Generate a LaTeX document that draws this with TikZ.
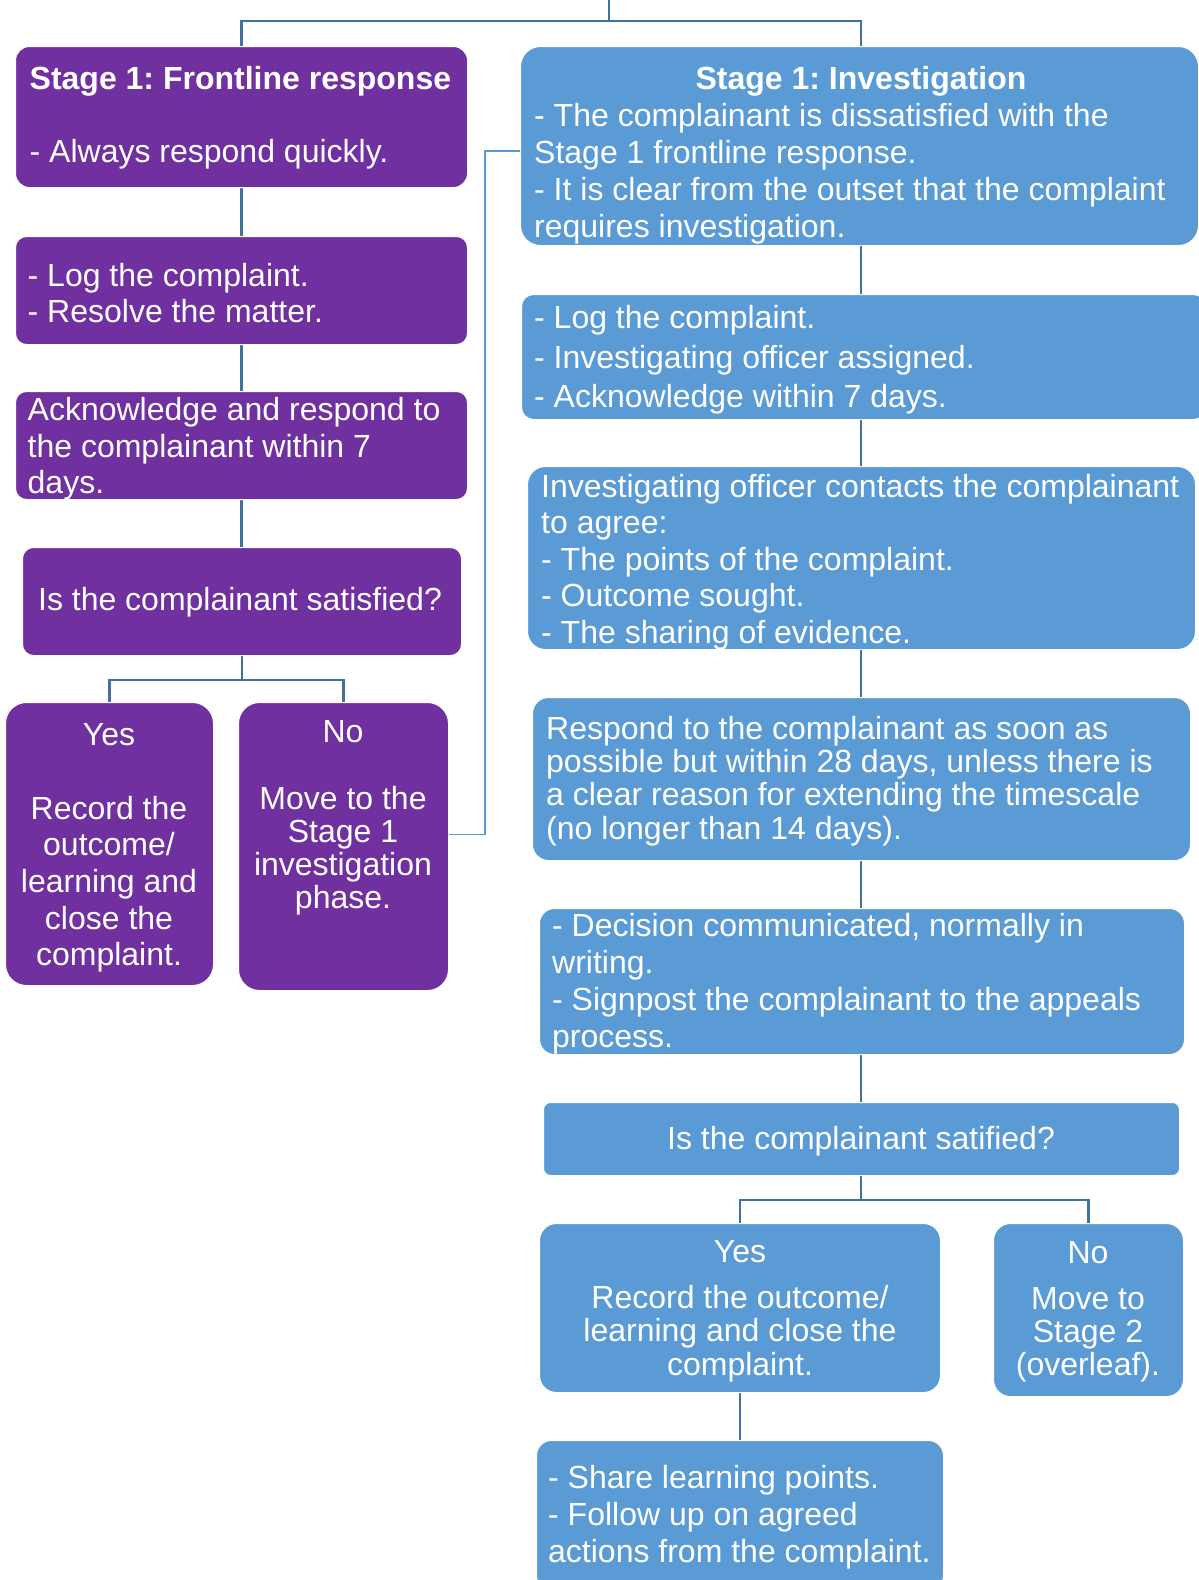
\documentclass[tikz,border=0pt]{standalone}
\usepackage{fontspec}
\setmainfont{Liberation Sans}
\usetikzlibrary{calc,backgrounds}
\definecolor{purp}{HTML}{7030A0}
\definecolor{blu}{HTML}{5B9BD5}
\definecolor{conn}{HTML}{41719C}
\frenchspacing
\begin{document}
\begin{tikzpicture}[x=1pt, y=-1pt,
  box/.style={draw=white, line width=1pt, anchor=north west, inner sep=0pt},
  pbox/.style={box, fill=purp},
  bbox/.style={box, fill=blu},
  txt/.style={text=white, inner sep=0pt},
  tl/.style={txt, align=left, anchor=west},
  tc/.style={txt, align=center},
  tree/.style={draw=conn, line width=2.5pt},
  cross/.style={draw=blu, line width=1.8pt},
  fs/.style={font=\frenchspacing\fontsize{32pt}{#1}\selectfont}
]
\useasboundingbox (0,0) rectangle (1199,1580);

% left column boxes
\node[pbox, minimum width=452pt, minimum height=141pt, rounded corners=14pt] (f1) at (15,46) {};
\node[pbox, minimum width=452pt, minimum height=108pt, rounded corners=11pt] (f2) at (15,236) {};
\node[pbox, minimum width=452pt, minimum height=108pt, rounded corners=11pt] (f3) at (15,391) {};
\node[pbox, minimum width=439pt, minimum height=108pt, rounded corners=11pt] (f4) at (22,547) {};
\node[pbox, minimum width=208pt, minimum height=283pt, rounded corners=21pt] (fy) at (5,702) {};
\node[pbox, minimum width=210pt, minimum height=288pt, rounded corners=21pt] (fn) at (238,702) {};

% right column boxes
\node[bbox, minimum width=678pt, minimum height=199pt, rounded corners=20pt] (i1) at (520,46) {};
\node[bbox, minimum width=684pt, minimum height=125pt, rounded corners=12pt] (i2) at (521,294) {};
\node[bbox, minimum width=668pt, minimum height=183pt, rounded corners=18pt] (i3) at (527,466) {};
\node[bbox, minimum width=658pt, minimum height=163pt, rounded corners=16pt] (i4) at (532,697) {};
\node[bbox, minimum width=645pt, minimum height=146pt, rounded corners=15pt] (i5) at (539,908) {};
\node[bbox, minimum width=636pt, minimum height=73pt, rounded corners=7pt] (i6) at (543,1102) {};
\node[bbox, minimum width=401pt, minimum height=169pt, rounded corners=17pt] (iy) at (539,1223) {};
\node[bbox, minimum width=190pt, minimum height=173pt, rounded corners=17pt] (ino) at (993,1223) {};
\node[bbox, minimum width=407pt, minimum height=150pt, rounded corners=15pt] (i7) at (536,1440) {};

% texts left
\node[tl, fs=37pt] (f1t) at (29.5,118) {\textbf{Stage 1: Frontline response}\\[36pt]- Always respond quickly.};
\node[tl, fs=36pt] (f2t) at (27.5,293) {- Log the complaint.\\- Resolve the matter.};
\node[tl, fs=36.3pt] (f3t) at (27.5,449) {Acknowledge and respond to\\the complainant within 7\\days.};
\node[tc, fs=37pt] (f4t) at (240,602) {Is the complainant satisfied?};
\node[tc, fs=36.7pt] (fyt) at (109,848) {Yes\\[37pt]Record the\\outcome/\\learning and\\close the\\complaint.};
\node[tc, fs=33pt] (fnt) at (343,818) {No\\[34pt]Move to the\\Stage 1\\investigation\\phase.};

% texts right
\node[tc, fs=37pt] (i1h) at (861,81) {\textbf{Stage 1: Investigation}};
\node[tl, fs=37pt] (i1t) at (534,174) {- The complainant is dissatisfied with the\\Stage 1 frontline response.\\- It is clear from the outset that the complaint\\requires investigation.};
\node[tl, fs=39.3pt] (i2t) at (534,360) {- Log the complaint.\\- Investigating officer assigned.\\- Acknowledge within 7 days.};
\node[tl, fs=36.5pt] (i3t) at (541,562) {Investigating officer contacts the complainant\\to agree:\\- The points of the complaint.\\- Outcome sought.\\- The sharing of evidence.};
\node[tl, fs=33.2pt] (i4t) at (546,781) {Respond to the complainant as soon as\\possible but within 28 days, unless there is\\a clear reason for extending the timescale\\(no longer than 14 days).};
\node[tl, fs=37pt] (i5t) at (552,984) {- Decision communicated, normally in\\writing.\\- Signpost the complainant to the appeals\\process.};
\node[tc, fs=37pt] (i6t) at (861,1141) {Is the complainant satified?};
\node[tc, fs=33.2pt] (iyt) at (740,1311) {Yes\\[13pt]Record the outcome/\\learning and close the\\complaint.};
\node[tc, fs=33.2pt] (inot) at (1088,1312) {No\\[12pt]Move to\\Stage 2\\(overleaf).};
\node[tl, fs=37pt] (i7t) at (548,1517) {- Share learning points.\\- Follow up on agreed\\actions from the complaint.};

\coordinate (root) at (609,0);
\coordinate (rootj) at (609,21);
\coordinate (rx) at (861,0);

\begin{scope}[on background layer]
\fill[white] (0,0) rectangle (1199,1580);
\draw[tree] (root) -- (rootj) -| (f1.north);
\draw[tree] (rootj) -| (i1.north -| rx);
\draw[tree] (f1.south) -- (f2.north);
\draw[tree] (f2.south) -- (f3.north);
\draw[tree] (f3.south) -- (f3.south |- f4.north);
\draw[tree] (f4.south) -- ++(0,24) coordinate (fj) -| (fy.north);
\draw[tree] (fj) -| (fn.north);
\draw[tree] (i1.south -| rx) -- (i2.north -| rx);
\draw[tree] (i2.south -| rx) -- (i3.north -| rx);
\draw[tree] (i3.south -| rx) -- (i4.north -| rx);
\draw[tree] (i4.south -| rx) -- (i5.north -| rx);
\draw[tree] (i5.south -| rx) -- (i6.north -| rx);
\draw[tree] (i6.south -| rx) -- ++(0,24) coordinate (ij) -| (iy.north);
\draw[tree] (ij) -| (ino.north);
\draw[tree] (iy.south) -- (iy.south |- i7.north);
\draw[cross] ([yshift=12pt]fn.east) -- ++(36,0) |- ([yshift=-5pt]i1.west);
\end{scope}
\end{tikzpicture}
\end{document}
